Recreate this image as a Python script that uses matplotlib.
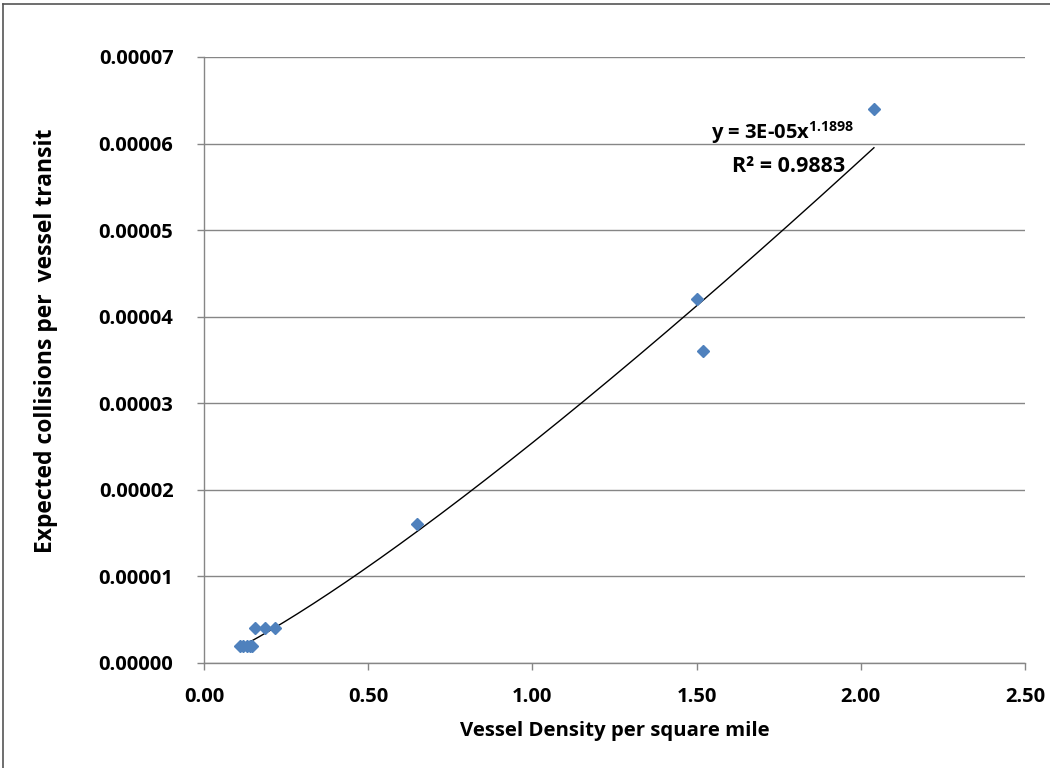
import numpy as np
import matplotlib.pyplot as plt
from matplotlib.lines import Line2D

# vessel density (per sq mile) vs expected collisions per transit
density = [0.11, 0.12, 0.13, 0.14, 0.145, 0.155, 0.187, 0.217, 0.65, 1.50, 1.52, 2.04]
collisions = [0.000002, 0.000002, 0.000002, 0.000002, 0.000002,
              0.000004, 0.000004, 0.000004, 0.000016, 0.000042, 0.000036, 0.000064]

x_ticks = [0.0, 0.5, 1.0, 1.5, 2.0, 2.5]
y_ticks = [0, 0.00001, 0.00002, 0.00003, 0.00004, 0.00005, 0.00006, 0.00007]

plt.rcParams['font.family'] = ['Open Sans', 'DejaVu Sans']
plt.rcParams['font.weight'] = 'bold'
plt.rcParams['mathtext.fontset'] = 'custom'
plt.rcParams['mathtext.bf'] = 'Open Sans:bold'
plt.rcParams['mathtext.rm'] = 'Open Sans:bold'

fig = plt.figure(figsize=(10.5, 7.68), dpi=100)
ax = fig.add_axes([204 / 1050, 105 / 768, 821 / 1050, 606 / 768])

# power-law trendline fitted in log-log space
b, log_a = np.polyfit(np.log(density), np.log(collisions), 1)
xs = np.linspace(min(density), max(density), 200)
ax.plot(xs, np.exp(log_a) * xs ** b, color='black', lw=1, zorder=3)

ax.plot(density, collisions, linestyle='none', marker='D', markersize=6.5,
        color='#4F81BD', markeredgecolor='#4F81BD', zorder=4)

ax.set_xlim(0, 2.5)
ax.set_ylim(0, 0.00007)
ax.set_xticks(x_ticks)
ax.set_yticks(y_ticks)
ax.set_xticklabels(['%.2f' % v for v in x_ticks])
ax.set_yticklabels(['%.5f' % v for v in y_ticks])
ax.tick_params(labelsize=14.5, length=5, color='#868686', width=1)
ax.tick_params(axis='x', pad=12)
ax.tick_params(axis='y', pad=17)
for lab in ax.get_xticklabels() + ax.get_yticklabels():
    lab.set_fontweight('bold')

ax.yaxis.grid(True, color='#868686', lw=1)
ax.set_axisbelow(True)
for s in ['top', 'right']:
    ax.spines[s].set_visible(False)
for s in ['left', 'bottom']:
    ax.spines[s].set_color('#868686')
    ax.spines[s].set_linewidth(1)

ax.set_xlabel('Vessel Density per square mile', fontsize=14.7, fontweight='bold', va='center')
ax.set_ylabel('Expected collisions per  vessel transit', fontsize=16.5, fontweight='bold', va='center')
ax.xaxis.set_label_coords(0.5, (663 - 731) / 606)
ax.yaxis.set_label_coords((46 - 204) / 821, 0.5 + (360 - 341) / 606)

ax.text(1.763, 0.0000613, r'y = 3E-05x$^{\mathbf{1.1898}}$', fontsize=14.5, fontweight='bold',
        ha='center', va='center')
ax.text(1.78, 0.0000573, 'R² = 0.9883', fontsize=15.5, fontweight='bold',
        ha='center', va='center')

# chart area border
fig.add_artist(Line2D([3 / 1050, 3 / 1050], [0, 764 / 768], color='#555555', lw=1.2,
                      transform=fig.transFigure))
fig.add_artist(Line2D([3 / 1050, 1], [764 / 768, 764 / 768], color='#555555', lw=1.2,
                      transform=fig.transFigure))

fig.savefig('out.png', dpi=100)
